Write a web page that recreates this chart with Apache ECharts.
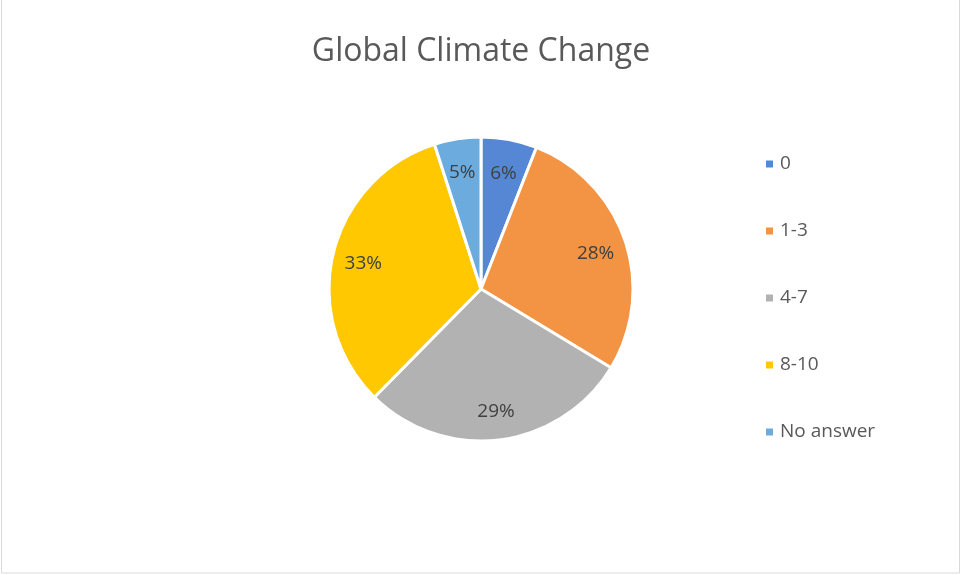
<!DOCTYPE html>
<html><head><meta charset="utf-8">
<script src="https://cdn.jsdelivr.net/npm/echarts@6/dist/echarts.min.js"></script>
<style>html,body{margin:0;padding:0;background:#fff}#c{width:962px;height:575px}</style>
</head><body><div id="c"></div>
<script>
var categories = ['0', '1-3', '4-7', '8-10', 'No answer'];
var values = [6, 28, 29, 33, 5];
var colors = ['#5587D5', '#F29443', '#B2B2B2', '#FFC800', '#6BABDD'];
var titleText = 'Global Climate Change';

var data = categories.map(function (c, i) { return { name: c, value: values[i], itemStyle: { color: colors[i] } }; });
var labelData = categories.map(function (c, i) { return { name: c, value: values[i] }; });
var font = '"Open Sans", "Liberation Sans", sans-serif';
var chart = echarts.init(document.getElementById('c'), null, { renderer: 'canvas' });
chart.setOption({
  animation: false,
  backgroundColor: '#fff',
  title: { text: titleText, left: 'center', top: 27, textStyle: { fontFamily: font, fontSize: 32, fontWeight: 'normal', color: '#595959', lineHeight: 40 } },
  legend: {
    orient: 'vertical', left: 759, top: 149, itemWidth: 9, itemHeight: 9, itemGap: 47, icon: 'rect',
    data: categories,
    textStyle: { fontFamily: font, fontSize: 19, lineHeight: 20, color: '#595959', padding: [0, 0, 0, 1] }
  },
  graphic: [{ type: 'rect', shape: { x: 1.5, y: -5, width: 958, height: 578 }, style: { fill: 'none', stroke: '#D9D9D9', lineWidth: 1 }, silent: true }],
  series: [
    {
      type: 'pie', center: [481, 289], radius: [0, 152], startAngle: 90, clockwise: true,
      data: data, label: { show: false }, labelLine: { show: false },
      itemStyle: { borderColor: '#fff', borderWidth: 3 }, emphasis: { disabled: true }
    },
    {
      type: 'pie', center: [481, 292], radius: [84, 152], startAngle: 90, clockwise: true, silent: true,
      data: labelData, legendHoverLink: false,
      itemStyle: { color: 'rgba(0,0,0,0)' },
      label: { show: true, position: 'inside', formatter: function (p) { return p.value + '%'; }, fontFamily: font, fontSize: 19, color: '#404040' },
      labelLine: { show: false }, emphasis: { disabled: true }
    }
  ]
});
</script></body></html>
